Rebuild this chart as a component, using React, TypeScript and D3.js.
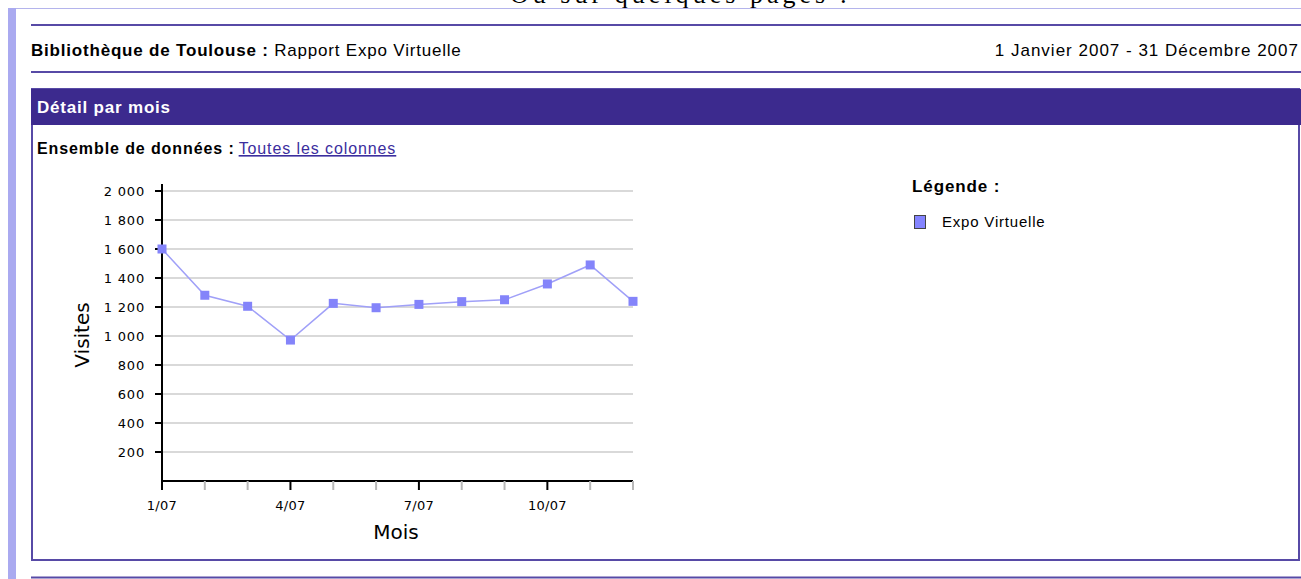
import * as d3 from 'd3';

const MONTHS = ['1/07', '2/07', '3/07', '4/07', '5/07', '6/07', '7/07', '8/07', '9/07', '10/07', '11/07', '12/07'];
const VISITES = [1600, 1281, 1205, 972, 1225, 1195, 1218, 1237, 1250, 1359, 1490, 1239];
const Y_TICKS = [200, 400, 600, 800, 1000, 1200, 1400, 1600, 1800, 2000];
const MAJOR_IDX = [0, 3, 6, 9];
const SERIES_NAME = 'Expo Virtuelle';

const W = 1301;
const H = 579;
const PURPLE = '#3c2a8e';
const LINE = '#574aa6';
const SANS = '"Liberation Sans", Arial, sans-serif';
const CHART_FONT = '"DejaVu Sans", Verdana, sans-serif';

const fmt = (v: number) => d3.format(',')(v).replace(',', ' ');

export default function App() {
  const x = d3.scaleLinear().domain([0, MONTHS.length - 1]).range([162, 633]);
  const y = d3.scaleLinear().domain([0, 2000]).range([481, 191]);
  const line = d3.line<number>().x((_, i) => x(i)).y(d => y(d));

  return (
    <div style={{ position: 'absolute', left: 0, top: 0, width: W, height: H, background: '#fff' }}>
      <svg width={W} height={H} style={{ display: 'block' }}>
        {/* clipped page text above */}
        <text x={510} y={3} fontFamily='"Liberation Serif", serif' fontSize={26} textLength={337} fill="#000">
          Ou sur quelques pages :
        </text>

        {/* page frame */}
        <rect x={8} y={8} width={8} height={H - 8} fill="#aaaaf0" />
        <line x1={16} x2={W} y1={8.5} y2={8.5} stroke="#b4b4ec" strokeWidth={1} />

        {/* report header */}
        <line x1={31} x2={W} y1={25} y2={25} stroke={LINE} strokeWidth={2} />
        <text x={31} y={56} fontFamily={SANS} fontSize={17} letterSpacing={0.8} fill="#000">
          <tspan fontWeight="bold">Bibliothèque de Toulouse :</tspan>
          <tspan> Rapport Expo Virtuelle</tspan>
        </text>
        <text x={1299} y={56} fontFamily={SANS} fontSize={17} letterSpacing={1} textAnchor="end" fill="#000">
          1 Janvier 2007 - 31 Décembre 2007
        </text>
        <line x1={31} x2={W} y1={72} y2={72} stroke={LINE} strokeWidth={2} />

        {/* section box */}
        <rect x={32} y={89} width={1267} height={471} fill="#fff" stroke={LINE} strokeWidth={2} />
        <rect x={31} y={89} width={W - 31} height={36} fill={PURPLE} />
        <text x={37} y={113} fontFamily={SANS} fontSize={17} letterSpacing={0.8} fontWeight="bold" fill="#fff">
          Détail par mois
        </text>
        <text x={37} y={154} fontFamily={SANS} fontSize={16} letterSpacing={0.9} fill="#000">
          <tspan fontWeight="bold">Ensemble de données :</tspan>
          <tspan dx={4} fill="#3b2e9e" textDecoration="underline">Toutes les colonnes</tspan>
        </text>
        <line x1={31} x2={W} y1={577.5} y2={577.5} stroke={LINE} strokeWidth={2} />

        {/* grid */}
        {Y_TICKS.map(t => (
          <line key={'g' + t} x1={x(0)} x2={x(MONTHS.length - 1)} y1={y(t)} y2={y(t)} stroke="#cccccc" strokeWidth={1.5} />
        ))}

        {/* y axis */}
        <line x1={x(0)} x2={x(0)} y1={184} y2={y(0)} stroke="#000" strokeWidth={2} />
        {Y_TICKS.map(t => (
          <g key={'y' + t}>
            <line x1={x(0) - 7} x2={x(0)} y1={y(t)} y2={y(t)} stroke="#000" strokeWidth={2} />
            <text x={145} y={y(t) + 5} textAnchor="end" fontFamily={CHART_FONT} fontSize={13} letterSpacing={0.8} fill="#000">
              {fmt(t)}
            </text>
          </g>
        ))}

        {/* x axis */}
        <line x1={x(0) - 1} x2={x(MONTHS.length - 1)} y1={y(0)} y2={y(0)} stroke="#000" strokeWidth={2} />
        {MONTHS.map((m, i) => {
          const major = MAJOR_IDX.includes(i);
          return (
            <g key={m}>
              <line x1={x(i)} x2={x(i)} y1={y(0)} y2={y(0) + 9} stroke={major ? '#000' : '#b8b8b8'} strokeWidth={2} />
              {major && (
                <text x={x(i)} y={510} textAnchor="middle" fontFamily={CHART_FONT} fontSize={13} letterSpacing={0.3} fill="#000">
                  {m}
                </text>
              )}
            </g>
          );
        })}

        {/* axis titles */}
        <text x={396} y={539} textAnchor="middle" fontFamily={CHART_FONT} fontSize={20} fill="#000">Mois</text>
        <text transform="translate(89,335) rotate(-90)" textAnchor="middle" fontFamily={CHART_FONT} fontSize={20} fill="#000">
          Visites
        </text>

        {/* series */}
        <path d={line(VISITES) ?? ''} fill="none" stroke="#a0a0f8" strokeWidth={1.5} />
        {VISITES.map((v, i) => (
          <rect key={'p' + i} x={x(i) - 4.5} y={y(v) - 4.5} width={9} height={9} fill="#8484fa" />
        ))}

        {/* legend */}
        <text x={912} y={192} fontFamily={SANS} fontSize={17} letterSpacing={0.9} fontWeight="bold" fill="#000">Légende :</text>
        <rect x={914.5} y={215.5} width={11} height={13} fill="#8484ff" stroke="#444" strokeWidth={1} />
        <text x={942} y={227} fontFamily={SANS} fontSize={15} letterSpacing={0.8} fill="#000">{SERIES_NAME}</text>
      </svg>
    </div>
  );
}
